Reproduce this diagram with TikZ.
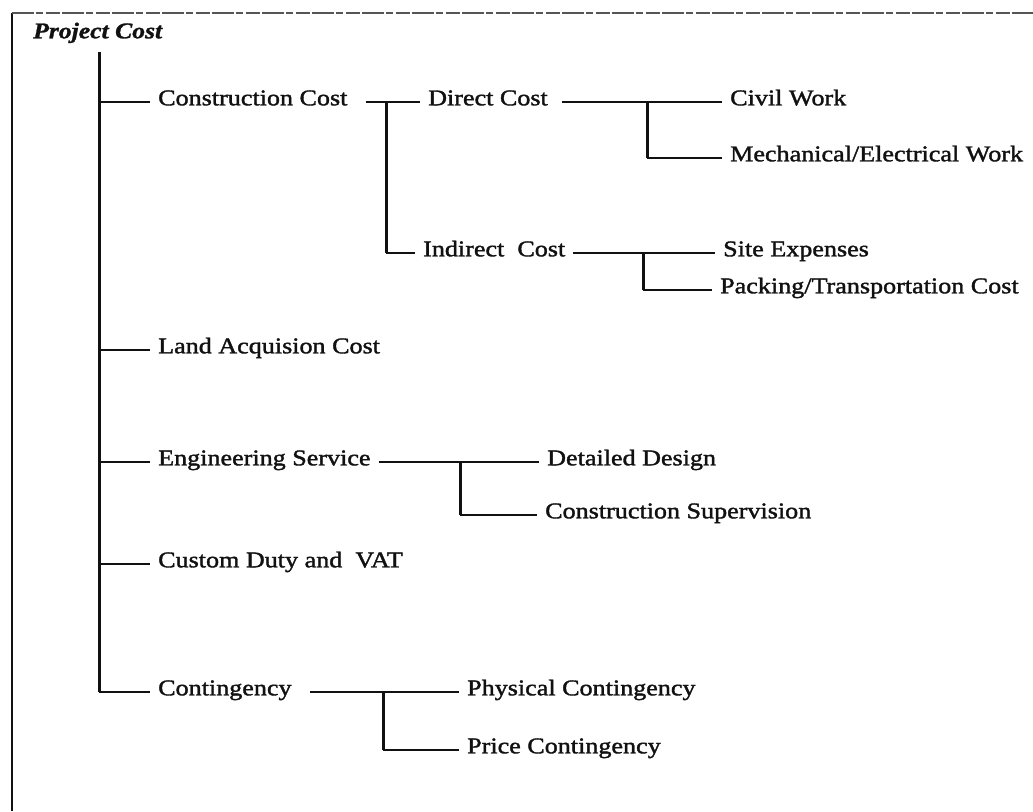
\documentclass[tikz,border=0pt]{standalone}
\usepackage{fontspec}
\setmainfont{Liberation Serif}[FakeStretch=1.16]
\newfontfamily\scanfont{Liberation Serif}[FakeStretch=1.16,FakeBold=1.6]
\newfontfamily\headfont{Liberation Serif Bold Italic}[FakeStretch=1.14,FakeBold=1.2]
\usepackage{tikz}
\usetikzlibrary{calc}
\definecolor{ink}{HTML}{111111}
\definecolor{rule}{HTML}{555555}

\begin{document}
\begin{tikzpicture}[x=1pt,y=-1pt, item/.style={anchor=west,inner xsep=8pt,inner ysep=0pt,text height=0.66em,text depth=0pt,text=ink,font=\scanfont\fontsize{22.5}{27}\selectfont}, stem/.style={ink,line width=3pt}, twig/.style={ink,line width=1.3pt}]
  \useasboundingbox (0,0) rectangle (1033,811);
  % frame, open on the right and at the bottom
  \draw[ink,line width=1.6pt] (12,811) -- (12,13);
  \draw[rule,line width=1.1pt,dash pattern=on 22pt off 2pt on 7pt off 3pt on 14pt off 2pt] (12,13) -- (1033,13);
  \node[item,inner xsep=0pt,font=\headfont\fontsize{22.5}{27}\selectfont] (root) at (33,35) {Project Cost};
  \coordinate (trunk) at (99,52);
  % first level
  \node[item] (cons) at (150,102) {Construction Cost};
  \node[item] (land) at (150,350) {Land Acquision Cost};
  \node[item] (engr) at (150,462) {Engineering Service};
  \node[item] (duty) at (150,564) {Custom Duty and\ \ VAT};
  \node[item] (cont) at (150,692) {Contingency};
  \draw[stem] (trunk) -- (trunk |- cont.west);
  \foreach \n in {cons,land,engr,duty,cont}
    \draw[twig] (trunk |- \n.west) -- (\n.west);
  % construction cost
  \node[item] (dir) at (420,102) {Direct Cost};
  \node[item] (ind) at (415,253) {Indirect\ \ Cost};
  \coordinate (cj) at (386,102);
  \draw[twig] ($(cons.east)+(10,0)$) -- (dir.west);
  \draw[stem] (cj) -- (cj |- ind.west);
  \draw[twig] (cj |- ind.west) -- (ind.west);
  % direct cost
  \node[item] (civil) at (722,102) {Civil Work};
  \node[item] (mech) at (722,158) {Mechanical/Electrical Work};
  \coordinate (dj) at (647,102);
  \draw[twig] ($(dir.east)+(6,0)$) -- (civil.west);
  \draw[stem] (dj) -- (dj |- mech.west);
  \draw[twig] (dj |- mech.west) -- (mech.west);
  % indirect cost
  \node[item] (site) at (715,253) {Site Expenses};
  \node[item] (pack) at (712,290) {Packing/Transportation Cost};
  \coordinate (ij) at (643,253);
  \draw[twig] (ind.east) -- (site.west);
  \draw[stem] (ij) -- (ij |- pack.west);
  \draw[twig] (ij |- pack.west) -- (pack.west);
  % engineering service
  \node[item] (dsgn) at (539,462) {Detailed Design};
  \node[item] (supv) at (537,515) {Construction Supervision};
  \coordinate (ej) at (460,462);
  \draw[twig] (engr.east) -- (dsgn.west);
  \draw[stem] (ej) -- (ej |- supv.west);
  \draw[twig] (ej |- supv.west) -- (supv.west);
  % contingency
  \node[item] (phys) at (459,692) {Physical Contingency};
  \node[item] (price) at (459,750) {Price Contingency};
  \coordinate (gj) at (383,692);
  \draw[twig] ($(cont.east)+(10,0)$) -- (phys.west);
  \draw[stem] (gj) -- (gj |- price.west);
  \draw[twig] (gj |- price.west) -- (price.west);
\end{tikzpicture}
\end{document}
